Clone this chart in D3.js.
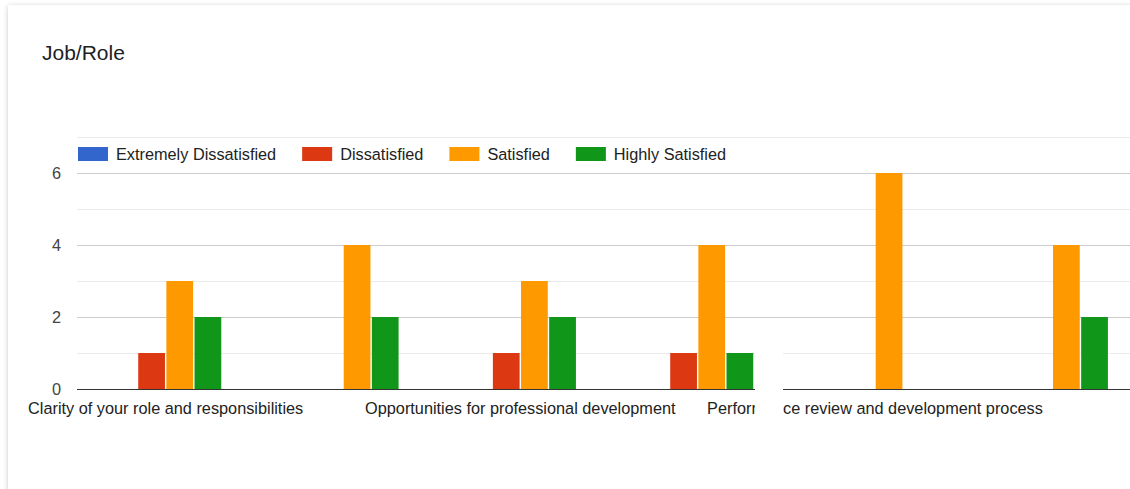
<!doctype HTML>
<html>
<head>
    <style>
        body { margin: 0; background: #fff; overflow: hidden; }
        .card {
            position: absolute; left: 8px; top: 5px;
            width: 1300px; height: 700px;
            background: #fff;
            box-shadow: 0 1px 5px rgba(0,0,0,0.22);
        }
        svg { position: absolute; left: 0; top: 0; font-family: Arial, "Liberation Sans", sans-serif; }
    </style>
    <script src="https://d3js.org/d3.v7.min.js"></script>
</head>
<body>
<div class="card"></div>
<div id="chart"></div>
<script>
    // data
    var categories = [
        "Clarity of your role and responsibilities",
        "Workload and work expectations",
        "Opportunities for professional development",
        "Recognition for your contributions",
        "Performance review and development process",
        "Support from your supervisor"
    ];
    var seriesNames = ["Extremely Dissatisfied", "Dissatisfied", "Satisfied", "Highly Satisfied"];
    var seriesColors = ["#3366cc", "#dc3912", "#ff9900", "#109618"];
    var extremelyDissatisfied = [0, 0, 0, 0, 0, 0];
    var dissatisfied = [1, 0, 1, 1, 0, 0];
    var satisfied = [3, 4, 3, 4, 6, 4];
    var highlySatisfied = [2, 2, 2, 1, 0, 2];
    var yTicks = [0, 2, 4, 6];

    var seriesValues = [extremelyDissatisfied, dissatisfied, satisfied, highlySatisfied];

    var svg = d3.select("#chart").append("svg")
        .attr("width", 1130)
        .attr("height", 489);

    // title
    svg.append("text")
        .attr("x", 42)
        .attr("y", 60)
        .attr("font-size", "21px")
        .attr("fill", "#202124")
        .text("Job/Role");

    var left = 77, step = 177.33;
    var xScale = d3.scaleBand()
        .domain(categories)
        .range([left, left + step * categories.length]);
    var groupWidth = 111.2;
    var inner = d3.scaleBand()
        .domain(seriesNames)
        .range([0, groupWidth])
        .paddingInner(0.05);
    var yScale = d3.scaleLinear().domain([0, 7]).range([389, 137]);

    // gridlines: major on even values, minor on odd
    var grid = svg.append("g");
    d3.range(1, 8).forEach(function(v) {
        grid.append("line")
            .attr("x1", left).attr("x2", 1130)
            .attr("y1", Math.round(yScale(v)) + 0.5)
            .attr("y2", Math.round(yScale(v)) + 0.5)
            .attr("stroke", v % 2 === 0 ? "#cccccc" : "#ebebeb")
            .attr("stroke-width", 1);
    });

    // y axis labels
    var yAxis = svg.append("g")
        .attr("transform", "translate(" + (left - 16) + ",0)")
        .call(d3.axisLeft(yScale).tickValues(yTicks).tickFormat(d3.format("d")).tickSize(0).tickPadding(0));
    yAxis.select(".domain").remove();
    yAxis.selectAll("text")
        .attr("font-size", "16.3px")
        .attr("font-family", "Arial, 'Liberation Sans', sans-serif")
        .attr("fill", "#444");

    // bars
    var groups = svg.selectAll(".grp")
        .data(categories)
        .enter().append("g")
        .attr("class", "grp")
        .attr("transform", function(d) {
            return "translate(" + (xScale(d) + (step - groupWidth) / 2) + ",0)";
        });

    groups.selectAll("rect")
        .data(function(d, i) {
            return seriesNames.map(function(s, j) { return {s: s, j: j, v: seriesValues[j][i]}; });
        })
        .enter().append("rect")
        .filter(function(d) { return d.v > 0; })
        .attr("x", function(d) { return inner(d.s); })
        .attr("y", function(d) { return yScale(d.v); })
        .attr("width", inner.bandwidth())
        .attr("height", function(d) { return yScale(0) - yScale(d.v); })
        .attr("fill", function(d) { return seriesColors[d.j]; });

    // baseline
    svg.append("line")
        .attr("x1", left).attr("x2", 1130)
        .attr("y1", 389.5).attr("y2", 389.5)
        .attr("stroke", "#333");

    // x labels, every other one like the original
    svg.selectAll(".xlab")
        .data(categories.filter(function(d, i) { return i % 2 === 0; }))
        .enter().append("text")
        .attr("class", "xlab")
        .attr("x", function(d) { return xScale(d) + xScale.bandwidth() / 2; })
        .attr("y", 414)
        .attr("text-anchor", "middle")
        .attr("font-size", "16.3px")
        .attr("fill", "#222")
        .text(function(d) { return d; });

    // legend
    var legend = svg.append("g");
    var lx = 78;
    seriesNames.forEach(function(s, i) {
        legend.append("rect")
            .attr("x", lx).attr("y", 147)
            .attr("width", 30).attr("height", 14)
            .attr("fill", seriesColors[i]);
        var t = legend.append("text")
            .attr("x", lx + 38)
            .attr("y", 160)
            .attr("font-size", "16.3px")
            .attr("fill", "#222")
            .text(s);
        lx = lx + 38 + t.node().getComputedTextLength() + 26;
    });

    // white gap present in the source screenshot
    svg.append("rect")
        .attr("x", 755).attr("y", 325)
        .attr("width", 28).attr("height", 100)
        .attr("fill", "#fff");
</script>
</body>
</html>
